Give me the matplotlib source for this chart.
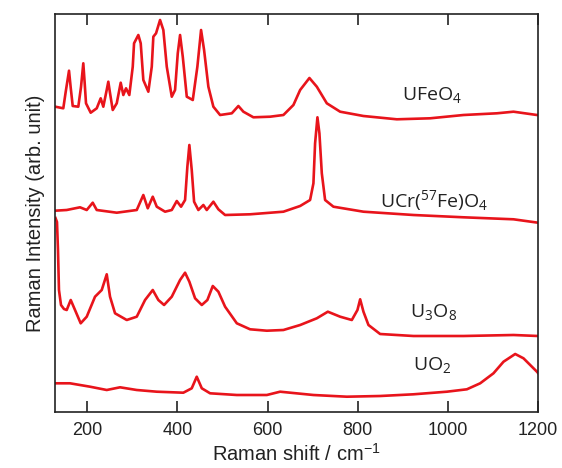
import matplotlib
matplotlib.use("Agg")
import matplotlib.pyplot as plt

# ---- data (Raman shift in cm^-1, intensity in arb. units) ----
ufeo4_x = [129, 146.7, 152, 159.4, 163, 167.6, 180.0, 186, 191.1, 194, 197.1, 207.5, 220.9, 229.7,
           235.5, 243, 246.6, 250, 256.4, 265.3, 271, 274.1, 279.9, 285.9, 293.2, 300.8, 303.7,
           313.2, 318.5, 324.3, 335.4, 343.0, 346.5, 352.5, 361.4, 368.7, 376.3, 387.4, 394.7,
           400.7, 405.8, 411.8, 420.7, 434.0, 444.2, 452.4, 459.1, 468.6, 479.7, 494.6, 520.6,
           535.2, 546.3, 568.5, 605.6, 635.1, 657.3, 672.2, 692.8, 709.2, 731.4, 761.0, 812.7,
           886.8, 960.7, 1034.7, 1108.8, 1145.7, 1197.6, 1200]
ufeo4_y = [305.3, 303.7, 320, 341.3, 325, 306, 305.3, 325, 348.7, 330, 308.7, 299.3, 303.7, 313.7,
           305.3, 322, 330.3, 320, 302, 308.7, 322, 329.3, 317, 323.7, 317, 345.3, 368.7,
           377, 368.7, 332, 320.3, 345.3, 375.3, 378.7, 392, 382, 345.3, 315.3, 322,
           358.7, 377, 355.3, 315.3, 312, 345.3, 382, 362, 325.3, 305.3, 297, 298.7,
           306, 300.3, 294.7, 295.3, 297, 307, 322, 334, 325.3, 308.7, 300.3, 296,
           292.7, 293.7, 297, 298.7, 300.3, 297, 297]

ucr_x = [128.3, 154.3, 183.8, 198.7, 212.0, 220.9, 265.3, 309.7, 324.3, 334.1, 345.2, 354.1,
         372.5, 387.4, 398.5, 408.0, 416.9, 422.0, 426.4, 431.7, 436.9, 446.4, 457.5, 465.0,
         479.7, 490.8, 505.7, 561.2, 635.1, 672.2, 694.3, 701.7, 705.4, 710.6, 715.0, 720.3,
         727.6, 746.1, 812.7, 923.7, 1034.7, 1145.7, 1200]
ucr_y = [201.3, 202, 204.7, 202, 209.3, 202, 199.3, 202, 217, 203.7, 215.3, 205.3,
         200.3, 202, 211, 205.3, 212, 245.3, 267, 242, 210.3, 202, 207, 202,
         210.3, 202.7, 197, 197.7, 200.3, 206, 212, 228.7, 268.7, 294.7, 278.7, 238.7,
         212, 205.3, 200.3, 197, 194.7, 192.7, 189.3]

u3o8_x = [129.4, 132.7, 134.9, 137.1, 141.6, 148.2, 154.3, 163.2, 172.7, 185.3, 198.7, 217.1,
          232.0, 243.1, 250.4, 261.5, 287.5, 309.7, 328.1, 345.2, 357.6, 370.3, 387.4, 405.8,
          416.9, 426.4, 439.1, 454.0, 466.4, 478.4, 490.8, 505.7, 531.7, 561.2, 598.3, 635.1,
          672.2, 709.2, 733.7, 761.0, 786.9, 799.4, 805.4, 812.7, 823.8, 849.7, 923.7, 1034.7,
          1145.7, 1200]
u3o8_y = [194, 190, 162, 122, 107, 103, 102, 112, 102, 88.7, 95.3, 115.3,
          122, 137.7, 115.3, 98.7, 92, 95.3, 112, 122, 112, 107, 115.3, 132,
          139.3, 130.3, 113.7, 107, 112, 126, 120.3, 105.3, 88.7, 82.7, 81.3, 82,
          87, 93.7, 100.3, 95.3, 92, 102, 112.7, 100.3, 87, 78, 76, 76,
          77, 76]

uo2_x = [128.3, 161.6, 206.0, 243.1, 272.6, 309.7, 354.1, 413.1, 431.7, 442.8, 454.0, 472.4,
         531.7, 598.3, 627.8, 701.7, 775.8, 849.7, 923.7, 997.8, 1042.2, 1071.7, 1101.2,
         1123.5, 1149.4, 1167.8, 1182.7, 1197.6, 1200]
uo2_y = [28.7, 28.7, 25.3, 22, 24.7, 22, 20.3, 19.3, 23.7, 35.3, 23.7, 18.7,
         17, 17, 20.3, 17, 15.3, 16, 17.7, 20.3, 22.7, 28.7, 38.7,
         50.3, 58, 53.7, 47, 40.3, 39]

series = [(ufeo4_x, ufeo4_y), (ucr_x, ucr_y), (u3o8_x, u3o8_y), (uo2_x, uo2_y)]

labels = ["UFeO$\\mathregular{_4}$", "UCr($\\mathregular{^{57}}$Fe)O$\\mathregular{_4}$",
          "U$\\mathregular{_3}$O$\\mathregular{_8}$", "UO$\\mathregular{_2}$"]
label_x = [898, 850, 916, 923]
label_y = [312, 205, 95, 42]

x_ticks = [200, 400, 600, 800, 1000, 1200]

# ---- figure ----
plt.rcParams['font.family'] = ['Liberation Sans', 'DejaVu Sans']
fig = plt.figure(figsize=(5.62, 4.68), dpi=100)
ax = fig.add_axes([55/562, 1 - 412/468, (538-55)/562, (412-14)/468])

red = '#e8141b'
for xs, ys in series:
    ax.plot(xs, ys, color=red, lw=1.9, solid_joinstyle='round')

for t, lx, ly in zip(labels, label_x, label_y):
    ax.text(lx, ly, t, fontsize=14, family='Open Sans', color='#222222',
            ha='left', va='baseline')

ax.set_xlim(128.3, 1200)
ax.set_ylim(0, 398)
ax.set_xticks(x_ticks)
ax.set_yticks([])
ax.tick_params(axis='x', direction='in', length=8, width=1.2, top=True,
               labelsize=13, pad=7, colors='#222222', labelcolor='#222222')
for s in ax.spines.values():
    s.set_linewidth(1.2)
    s.set_color('#222222')

ax.set_xlabel("Raman shift / cm$\\mathregular{^{-1}}$", fontsize=14.5, color='#222222', labelpad=3)
ax.set_ylabel("Raman Intensity (arb. unit)", fontsize=14.5, color='#222222', labelpad=7)

fig.savefig("out.png", dpi=100)
